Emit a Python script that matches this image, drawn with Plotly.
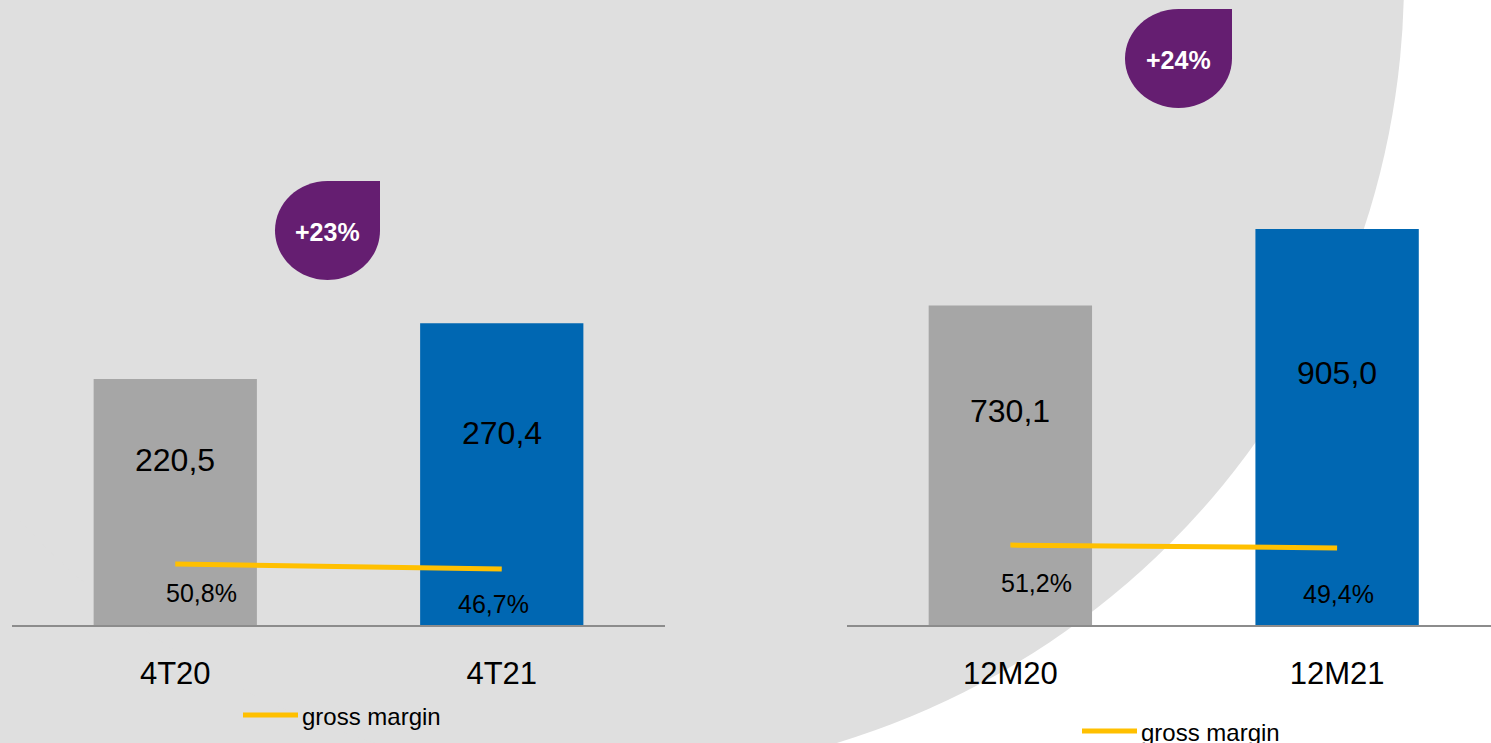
import plotly.graph_objects as go

W, H = 1491, 743

# valores (4T e 12M)
cat_q = ["4T20", "4T21"]
cat_y = ["12M20", "12M21"]
val_q = [220.5, 270.4]
val_y = [730.1, 905.0]
lbl_q = ["220,5", "270,4"]
lbl_y = ["730,1", "905,0"]

# gross margin
gm_q = [50.8, 46.7]
gm_y = [51.2, 49.4]
gm_lbl_q = ["50,8%", "46,7%"]
gm_lbl_y = ["51,2%", "49,4%"]

growth = ["+23%", "+24%"]
legend_name = "gross margin"

GRAY = "#a6a6a6"
BLUE = "#0067b2"
GOLD = "#ffc000"
PURPLE = "#651e71"
BG = "#dfdfdf"
FONT = "Arial, Liberation Sans, sans-serif"


def px(x):
    return x / W


def py(y):
    return 1 - y / H


def drop_path(x0, y0, x1, y1):
    # circulo com o canto superior direito quadrado
    cx, cy = (x0 + x1) / 2, (y0 + y1) / 2
    rx, ry = (x1 - x0) / 2, (y1 - y0) / 2
    k = 0.5523
    p = lambda x, y: "%.5f,%.5f" % (px(x), py(y))
    return ("M " + p(cx, y0) + " L " + p(x1, y0) + " L " + p(x1, cy) +
            " C " + p(x1, cy + k * ry) + " " + p(cx + k * rx, y1) + " " + p(cx, y1) +
            " C " + p(cx - k * rx, y1) + " " + p(x0, cy + k * ry) + " " + p(x0, cy) +
            " C " + p(x0, cy - k * ry) + " " + p(cx - k * rx, y0) + " " + p(cx, y0) + " Z")


fig = go.Figure()
fig.add_trace(go.Bar(x=cat_q, y=val_q, marker_color=[GRAY, BLUE], width=0.5,
                     marker_line_width=0, xaxis="x", yaxis="y"))
fig.add_trace(go.Bar(x=cat_y, y=val_y, marker_color=[GRAY, BLUE], width=0.5,
                     marker_line_width=0, xaxis="x2", yaxis="y2"))
fig.add_trace(go.Scatter(x=cat_q, y=gm_q, mode="lines", name=legend_name,
                         line=dict(color=GOLD, width=5), xaxis="x", yaxis="y3"))
fig.add_trace(go.Scatter(x=cat_y, y=gm_y, mode="lines", name=legend_name,
                         line=dict(color=GOLD, width=5), xaxis="x2", yaxis="y4"))

annotations = []
label_pos = [0.67, 0.636]  # altura relativa do rotulo dentro da barra
for i in range(2):
    annotations.append(dict(x=cat_q[i], y=val_q[i] * label_pos[i], xref="x", yref="y",
                            text=lbl_q[i], showarrow=False, font=dict(size=32, color="black")))
    annotations.append(dict(x=cat_y[i], y=val_y[i] * label_pos[i], xref="x2", yref="y2",
                            text=lbl_y[i], showarrow=False, font=dict(size=32, color="black")))

# rotulos da margem
shift_q = [(26, -29), (-8, -35)]
shift_y = [(26, -38), (1, -46)]
for i in range(2):
    annotations.append(dict(x=cat_q[i], y=gm_q[i], xref="x", yref="y3", text=gm_lbl_q[i],
                            showarrow=False, xshift=shift_q[i][0], yshift=shift_q[i][1],
                            font=dict(size=25, color="black")))
    annotations.append(dict(x=cat_y[i], y=gm_y[i], xref="x2", yref="y4", text=gm_lbl_y[i],
                            showarrow=False, xshift=shift_y[i][0], yshift=shift_y[i][1],
                            font=dict(size=25, color="black")))

# fundo cinza: retangulo a esquerda + circulo grande
shapes = [dict(type="rect", xref="paper", yref="paper", layer="below",
               x0=0, x1=px(606), y0=0, y1=1, fillcolor=BG, line_width=0),
          dict(type="circle", xref="paper", yref="paper", layer="below",
               x0=px(606 - 798), x1=px(606 + 798), y0=py(-21 + 798), y1=py(-21 - 798),
               fillcolor=BG, line_width=0)]

# gotas roxas com o crescimento
drops = [(275, 181, 380, 280), (1125, 9, 1232, 108)]
for (x0, y0, x1, y1), txt in zip(drops, growth):
    shapes.append(dict(type="path", xref="paper", yref="paper", path=drop_path(x0, y0, x1, y1),
                       fillcolor=PURPLE, line_width=0))
    annotations.append(dict(x=px((x0 + x1) / 2), y=py((y0 + y1) / 2 + 2), xref="paper", yref="paper",
                            xanchor="center", yanchor="middle",
                            text="<b>%s</b>" % txt, showarrow=False,
                            font=dict(size=25, color="white")))

# legendas
for lx0, lx1, ly in [(243, 298, 715), (1082, 1137, 731)]:
    shapes.append(dict(type="line", xref="paper", yref="paper", x0=px(lx0), x1=px(lx1),
                       y0=py(ly), y1=py(ly), line=dict(color=GOLD, width=5)))
    annotations.append(dict(x=px(lx1 + 2), y=py(ly + 1), xref="paper", yref="paper",
                            xanchor="left", yanchor="middle", text=legend_name, showarrow=False,
                            font=dict(size=24, color="black")))

ydom = [py(625), 1]
xax = dict(type="category", showline=True, linecolor="#8c8c8c", linewidth=2, showgrid=False,
           zeroline=False, ticks="outside", ticklen=20, tickcolor="rgba(0,0,0,0)",
           tickfont=dict(size=31, color="black"))
yax = dict(visible=False, showgrid=False, zeroline=False)

fig.update_layout(
    width=W, height=H, margin=dict(l=0, r=0, t=0, b=0),
    paper_bgcolor="white", plot_bgcolor="rgba(0,0,0,0)",
    font=dict(family=FONT), showlegend=False,
    xaxis=dict(xax, domain=[px(12), px(665)], range=[-0.5, 1.5], anchor="y"),
    yaxis=dict(yax, domain=ydom, range=[0, 560], anchor="x"),
    yaxis3=dict(yax, overlaying="y", range=[0, 520.8], anchor="x"),
    xaxis2=dict(xax, domain=[px(847), 1], range=[-0.5, 1.471], anchor="y2"),
    yaxis2=dict(yax, domain=ydom, range=[0, 1428.3], anchor="x2"),
    yaxis4=dict(yax, overlaying="y2", range=[0, 400.6], anchor="x2"),
    shapes=shapes, annotations=annotations,
)

# tira a margem padrao do body para o grafico encostar nas bordas
fig.write_html("out.html", config={"displayModeBar": False},
               post_script="document.body.style.margin='0px';")
